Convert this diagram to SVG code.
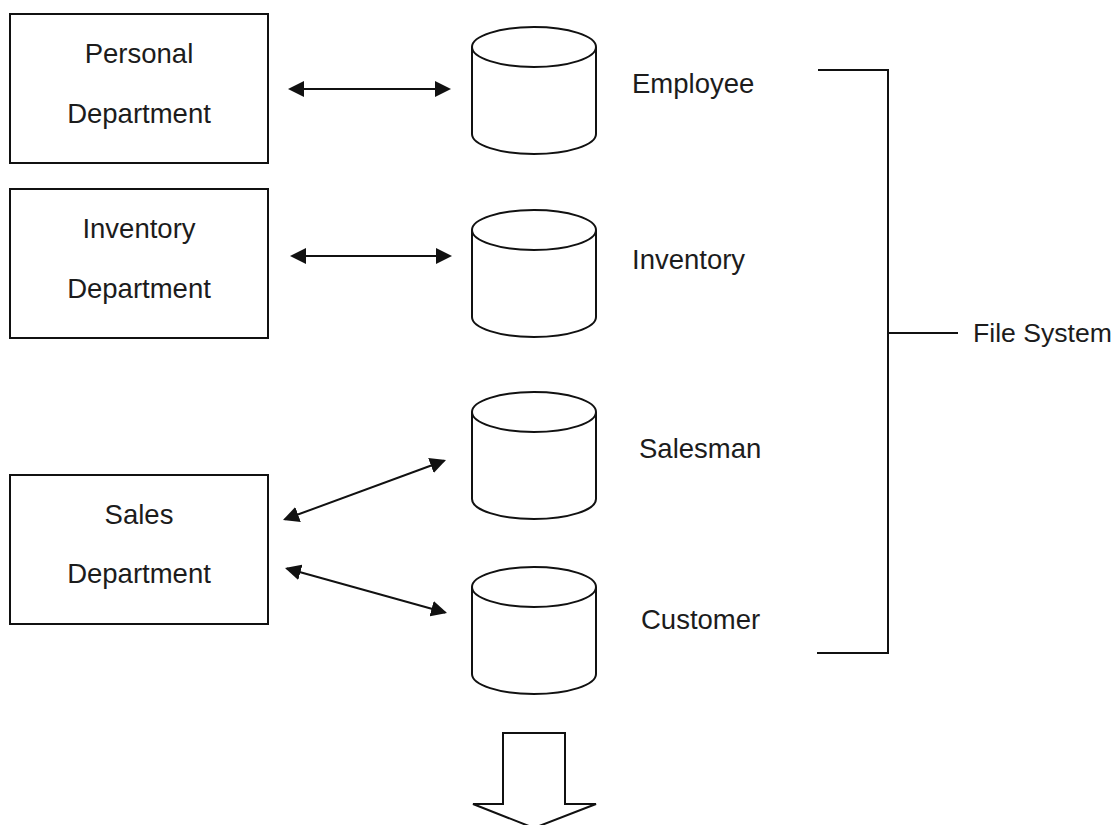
<svg xmlns="http://www.w3.org/2000/svg" xmlns:xlink="http://www.w3.org/1999/xlink" width="1118" height="825" viewBox="0 0 1118 825">
  <style>
    .box { fill: #ffffff; stroke: #111111; stroke-width: 2; }
    .cyl { fill: #ffffff; stroke: #111111; stroke-width: 2; }
    .lbl { font-family: "Liberation Sans", Arial, sans-serif; font-size: 27.5px; fill: #1c1c1c; }
    .mid { text-anchor: middle; }
    .conn { stroke: #111111; stroke-width: 2; fill: none; }
    .arr { marker-start: url(#head); marker-end: url(#head); }
  </style>
  <defs>
    <marker id="head" markerUnits="userSpaceOnUse" markerWidth="16" markerHeight="16" refX="14" refY="8" orient="auto-start-reverse">
      <path d="M0,0 L16,8 L0,16 z" fill="#111111"/>
    </marker>
    <!-- database cylinder, origin at top-left of its bounding box -->
    <g id="cylinder">
      <path class="cyl" d="M0,20 V107 A62,20 0 0 0 124,107 V20"/>
      <ellipse class="cyl" cx="62" cy="20" rx="62" ry="20"/>
    </g>
  </defs>

  <rect width="1118" height="825" fill="#ffffff"/>

  <!-- departments -->
  <g id="personal-department">
    <rect class="box" x="10" y="14" width="258" height="149"/>
    <text class="lbl mid" x="139" y="63">Personal</text>
    <text class="lbl mid" x="139" y="123">Department</text>
  </g>
  <g id="inventory-department">
    <rect class="box" x="10" y="189" width="258" height="149"/>
    <text class="lbl mid" x="139" y="238">Inventory</text>
    <text class="lbl mid" x="139" y="298">Department</text>
  </g>
  <g id="sales-department">
    <rect class="box" x="10" y="475" width="258" height="149"/>
    <text class="lbl mid" x="139" y="524">Sales</text>
    <text class="lbl mid" x="139" y="583">Department</text>
  </g>

  <!-- data files -->
  <g id="employee-file">
    <use xlink:href="#cylinder" href="#cylinder" x="472" y="27"/>
    <text class="lbl" x="632" y="93">Employee</text>
  </g>
  <g id="inventory-file">
    <use xlink:href="#cylinder" href="#cylinder" x="472" y="210"/>
    <text class="lbl" x="632" y="269">Inventory</text>
  </g>
  <g id="salesman-file">
    <use xlink:href="#cylinder" href="#cylinder" x="472" y="392"/>
    <text class="lbl" x="639" y="458">Salesman</text>
  </g>
  <g id="customer-file">
    <use xlink:href="#cylinder" href="#cylinder" x="472" y="567"/>
    <text class="lbl" x="641" y="629">Customer</text>
  </g>

  <!-- file system bracket -->
  <g id="file-system">
    <path class="conn" d="M818,70 H888 V653 H817 M888,333 H958"/>
    <text class="lbl" x="973" y="342" style="font-size:26.6px">File System</text>
  </g>

  <!-- two-way connectors -->
  <g id="connectors">
    <line class="conn arr" x1="290" y1="89" x2="449" y2="89"/>
    <line class="conn arr" x1="292" y1="256" x2="450" y2="256"/>
    <line class="conn arr" x1="284.9" y1="519.3" x2="444.1" y2="460.7"/>
    <line class="conn arr" x1="286.9" y1="568.5" x2="445.1" y2="612.5"/>
  </g>

  <!-- downward block arrow -->
  <g id="down-arrow">
    <polygon points="503,733 565,733 565,804 596,804 534,828 473,804 503,804" fill="#ffffff" stroke="#111111" stroke-width="2" stroke-linejoin="miter"/>
  </g>
</svg>
